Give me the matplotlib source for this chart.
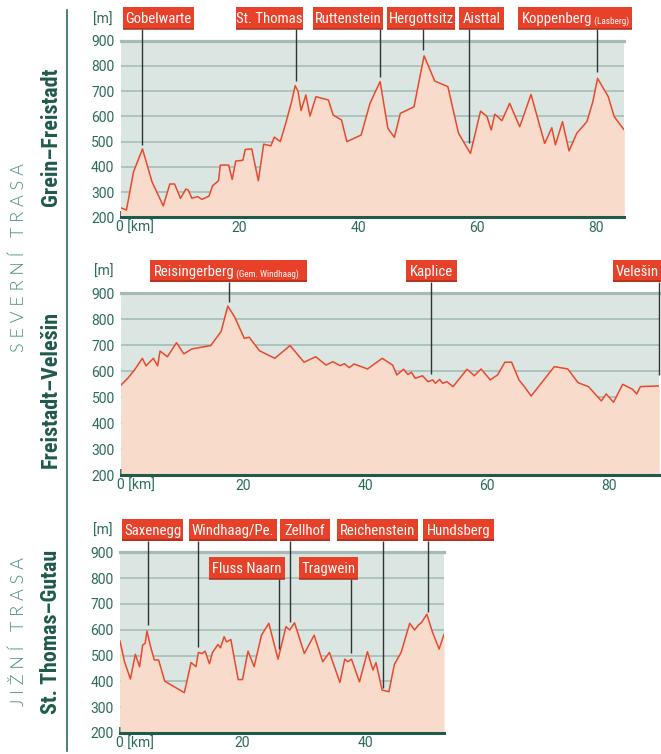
import os
import matplotlib
matplotlib.use("Agg")
import matplotlib.pyplot as plt
from matplotlib import font_manager as fm
from matplotlib.patches import FancyBboxPatch
from matplotlib.lines import Line2D
from matplotlib.transforms import ScaledTranslation

# ---------------- data ----------------
# Panel 1: Grein - Freistadt
km1 = [0, 1.0, 2.2, 3.7, 5.3, 7.2, 8.3, 9.1, 10.1, 11.0, 11.4, 12.0, 13.0, 13.7, 14.9,
       15.5, 16.5, 16.8, 18.2, 18.8, 19.4, 20.6, 21.0, 22.1, 23.2, 24.1, 25.3, 25.9, 26.9,
       27.8, 28.8, 29.4, 29.9, 30.4, 31.2, 31.9, 32.9, 35.0, 35.8, 37.2, 38.1, 40.5, 42.0,
       42.9, 43.7, 45.0, 46.1, 47.1, 49.4, 51.1, 52.9, 55.1, 56.9, 58.9, 60.6, 61.7, 62.4,
       63.0, 64.2, 65.5, 67.2, 69.1, 71.4, 72.6, 73.2, 74.4, 75.5, 76.8, 78.5, 79.5, 80.3,
       82.1, 83.1, 84.8]
elev1 = [238, 229, 381, 471, 341, 245, 332, 332, 275, 312, 308, 276, 282, 271, 284,
         325, 345, 407, 407, 350, 423, 426, 469, 471, 345, 490, 483, 518, 500,
         572, 658, 722, 698, 623, 685, 601, 678, 665, 605, 586, 500, 526, 652,
         698, 738, 553, 517, 612, 638, 840, 740, 718, 533, 453, 621, 599, 546,
         609, 583, 652, 559, 687, 493, 555, 487, 579, 463, 533, 579, 658, 751,
         678, 599, 546]
names1 = ["Gobelwarte", "St. Thomas", "Ruttenstein", "Hergottsitz", "Aisttal", "Koppenberg"]
subs1 = ["", "", "", "", "", "(Lasberg)"]
mark_km1 = [3.6, 29.5, 43.7, 51.0, 58.7, 80.2]
mark_elev1 = [487, 741, 757, 863, 493, 777]

# Panel 2: Freistadt - Velesin
km2 = [0, 1.1, 2.2, 3.5, 4.1, 5.3, 6.0, 6.4, 7.6, 9.1, 10.3, 11.6, 14.7, 16.4, 17.5,
       18.6, 20.2, 21.0, 22.7, 25.2, 27.7, 30.0, 31.9, 33.6, 34.7, 35.9, 36.6, 37.4, 38.2,
       40.4, 42.8, 44.5, 45.2, 46.3, 47.0, 47.6, 48.2, 49.4, 50.3, 51.1, 51.5, 52.2, 52.7,
       53.4, 54.4, 56.7, 57.9, 59.0, 60.5, 61.7, 62.9, 64.0, 65.2, 66.1, 67.2, 71.0, 73.2,
       74.9, 76.6, 78.7, 79.5, 80.7, 82.2, 83.8, 84.5, 85.1, 88.2]
elev2 = [547, 573, 605, 650, 621, 650, 621, 678, 656, 710, 667, 686, 699, 753, 851,
         810, 727, 731, 679, 650, 699, 635, 656, 624, 637, 622, 629, 614, 628,
         609, 650, 624, 586, 608, 588, 596, 573, 583, 560, 567, 554, 569, 554,
         560, 541, 608, 583, 609, 567, 586, 635, 635, 567, 541, 505, 618, 609,
         556, 541, 486, 513, 481, 550, 531, 513, 541, 544]
names2 = ["Reisingerberg", "Kaplice", "Velešin"]
subs2 = ["(Gem. Windhaag)", "", ""]
mark_km2 = [17.7, 50.8, 88.2]
mark_elev2 = [865, 588, 586]

# Panel 3: St. Thomas - Gutau
km3 = [0, 0.74, 1.7, 2.5, 3.2, 3.7, 4.1, 4.4, 5.0, 5.6, 6.3, 7.3, 10.5, 11.6, 12.4,
       12.8, 13.4, 13.9, 14.6, 15.1, 16.0, 16.4, 17.0, 17.4, 18.1, 19.3, 20.0, 20.9, 21.9,
       23.1, 24.3, 25.8, 27.1, 27.7, 28.5, 30.1, 31.7, 33.1, 34.2, 35.9, 36.7, 37.2, 37.8,
       39.1, 40.4, 41.3, 41.8, 42.8, 43.9, 44.8, 45.9, 47.3, 48.1, 48.7, 49.2, 50.1, 51.0,
       52.1, 52.9]
elev3 = [556, 476, 409, 505, 457, 541, 547, 595, 534, 483, 483, 401, 356, 473, 457,
         512, 508, 517, 468, 512, 543, 530, 573, 553, 562, 407, 407, 517, 457,
         579, 625, 486, 612, 599, 627, 508, 579, 476, 512, 396, 486, 476, 486,
         398, 515, 444, 473, 366, 360, 466, 512, 625, 599, 618, 627, 660, 592,
         525, 582]
names3 = ["Saxenegg", "Windhaag/Pe.", "Zellhof", "Reichenstein", "Hundsberg",
          "Fluss Naarn", "Tragwein"]
subs3 = ["", "", "", "", "", "", ""]
mark_km3 = [4.5, 12.8, 27.7, 43.0, 50.3, 25.9, 37.7]
mark_elev3 = [618, 534, 631, 373, 670, 524, 509]

yticks = [200, 300, 400, 500, 600, 700, 800, 900]
xticks1 = [0, 20, 40, 60, 80]
xticks3 = [0, 20, 40]
xlabels1 = ["0 [km]", "20", "40", "60", "80"]
xlabels3 = ["0 [km]", "20", "40"]

# ---------------- layout / style ----------------
W, H, DPI = 661, 754, 100
BG = "#dbe6e2"
GRID = "#a5bcb4"
FILL = "#f9dbcb"
LINE = "#e8492d"
BOX = "#e8412a"
BOXEDGE = "#a9301d"
TEAL = "#2b6a5a"
TEAL_LIGHT = "#4d8d7c"
DARK = "#1f5a4b"


def find_font(cands):
    files = {}
    for f in fm.fontManager.ttflist:
        b = os.path.splitext(os.path.basename(f.fname))[0].lower()
        files.setdefault(b, f.fname)
    for name, size in cands:
        if name.lower() in files:
            return files[name.lower()], size
    return None, None


def make_fp(cands, fb_family, fb_weight, fb_size):
    path, size = find_font(cands)
    if path:
        return fm.FontProperties(fname=path, size=size)
    return fm.FontProperties(family=fb_family, weight=fb_weight, size=fb_size)


fp_title = make_fp([("NotoSans-ExtraCondensedBold", 17.5), ("NotoSans-CondensedBold", 15.5),
                    ("RobotoCondensed-Bold", 15.8), ("DejaVuSansCondensed-Bold", 14)],
                   "Roboto", "bold", 14)
fp_label = make_fp([("NotoSans-CondensedMedium", 10.6), ("NotoSans-Condensed", 10.6),
                    ("RobotoCondensed-Regular", 10.6), ("DejaVuSansCondensed", 9.5)],
                   "Roboto", "normal", 9.5)
fp_small = fp_label.copy()
fp_small.set_size(fp_label.get_size() * 0.62)
fp_tick = make_fp([("NotoSans-SemiCondensed", 10.2), ("NotoSans-Regular", 10),
                   ("Roboto-Regular", 10)], "Noto Sans", "normal", 10)
fp_light = make_fp([("Lato-Light", 13), ("OpenSans-Light", 12.5), ("NotoSans-Light", 12.5),
                    ("Roboto-Light", 12.5)], "DejaVu Sans", "light", 12)

fig = plt.figure(figsize=(W / DPI, H / DPI), dpi=DPI)
fig.patch.set_facecolor("white")


def pxrect(l, t, r, b):
    return [l / W, 1 - b / H, (r - l) / W, (b - t) / H]


def panel(rect_px, xlim, km, elev, xticks, xlabels, names, subs, mkm, melev,
          boxes, rows):
    l, t, r, b = rect_px
    ax = fig.add_axes(pxrect(l, t, r, b))
    ax.set_facecolor(BG)
    ax.set_xlim(*xlim)
    ax.set_ylim(200, 900)
    ppe = (b - t) / 700.0  # pixels per metre
    ppk = (r - l) / (xlim[1] - xlim[0])  # pixels per km
    for yv in yticks[1:-1]:
        ax.axhline(yv, color=GRID, lw=1.2, zorder=1)
    ax.fill_between(km, elev, 200, color=FILL, lw=0, zorder=2)
    ax.plot(km, elev, color=LINE, lw=1.1, zorder=3, solid_joinstyle="round")
    for s in ["left", "right"]:
        ax.spines[s].set_visible(False)
    ax.spines["top"].set_color(GRID)
    ax.spines["top"].set_linewidth(2.3)
    ax.spines["bottom"].set_color(DARK)
    ax.spines["bottom"].set_linewidth(2.2)
    ax.set_yticks(yticks)
    ax.set_yticklabels([str(v) for v in yticks])
    ax.tick_params(axis="y", length=0, pad=4.5, colors=TEAL)
    ax.set_xticks(xticks)
    ax.set_xticklabels(xlabels)
    ax.tick_params(axis="x", direction="in", length=4, width=1.2, color=DARK,
                   pad=2.5, colors=TEAL)
    for lab in ax.get_xticklabels() + ax.get_yticklabels():
        lab.set_fontproperties(fp_tick)
        lab.set_color(TEAL)
    first = ax.get_xticklabels()[0]
    first.set_horizontalalignment("left")
    first.set_transform(first.get_transform() + ScaledTranslation(-4 / DPI, 0, fig.dpi_scale_trans))
    ax.annotate("[m]", xy=(0, 1), xycoords="axes fraction", xytext=(-8, 21),
                textcoords="offset pixels", ha="right", va="center",
                fontproperties=fp_tick, color=TEAL)

    # label boxes
    for name, sub, mk, me, (bl, br), row in zip(names, subs, mkm, melev, boxes, rows):
        if row == 0:
            yb_px = 11.5
        else:
            yb_px = -27.0
        yb = 900 + yb_px / ppe
        yt = yb + 22 / ppe
        ax.plot([mk, mk], [me, yb], color="#333333", lw=1.0, zorder=4,
                clip_on=False, solid_capstyle="butt")
        patch = FancyBboxPatch((bl, yb), br - bl, yt - yb,
                               boxstyle="square,pad=0", fc=BOX, ec="none",
                               zorder=5, clip_on=False)
        ax.add_patch(patch)
        ax.plot([bl, br], [yb + 0.6 / ppe, yb + 0.6 / ppe], color=BOXEDGE, lw=1.1,
                zorder=6, clip_on=False, solid_capstyle="butt")
        ybase = yb + 6.0 / ppe
        if sub:
            tx = ax.text(bl + 3.5 / ppk, ybase, name, ha="left", va="baseline",
                         color="white", fontproperties=fp_label, zorder=7, clip_on=False)
            ax.annotate(" " + sub, xy=(1, 0), xycoords=tx, xytext=(0, 0),
                        textcoords="offset pixels", ha="left", va="bottom",
                        color="white", fontproperties=fp_small, zorder=7,
                        annotation_clip=False)
        else:
            ax.text((bl + br) / 2, ybase, name, ha="center", va="baseline",
                    color="white", fontproperties=fp_label, zorder=7, clip_on=False)
    return ax


panel((120.5, 40.7, 624.3, 217.3), (0, 84.8), km1, elev1, xticks1, xlabels1,
      names1, subs1, mark_km1, mark_elev1,
      [(0.42, 12.37), (19.44, 30.72), (32.41, 44.19), (44.87, 56.31), (56.99, 64.56),
       (66.92, 86.11)], [0] * 6)

panel((121.0, 293.3, 659.3, 475.3), (0, 88.2), km2, elev2, xticks1, xlabels1,
      names2, subs2, mark_km2, mark_elev2,
      [(4.75, 30.54), (46.72, 55.03), (80.61, 88.55)], [0] * 3)

panel((120.0, 552.3, 444.0, 733.0), (0, 52.9), km3, elev3, xticks3, xlabels3,
      names3, subs3, mark_km3, mark_elev3,
      [(0.4, 10.3), (11.3, 25.6), (26.1, 34.3), (35.4, 48.7), (49.5, 61.0),
       (14.5, 27.0), (29.2, 38.9)], [0, 0, 0, 0, 0, 1, 1])

# left side texts
fig.add_artist(Line2D([67 / W, 67 / W], [1 - 10 / H, 1 - 751 / H], color=TEAL, lw=1.2))


def ftext(x, y, s, fp, color):
    fig.text(x / W, 1 - y / H, s, rotation=90, ha="center", va="center",
             fontproperties=fp, color=color, rotation_mode="anchor")


ftext(19, 258, "S E V E R N Í   T R A S A", fp_light, TEAL_LIGHT)
ftext(19, 632, "J I Ž N Í   T R A S A", fp_light, TEAL_LIGHT)
ftext(51, 137, "Grein–Freistadt", fp_title, DARK)
ftext(51, 389, "Freistadt–Velešin", fp_title, DARK)
ftext(51, 632, "St. Thomas–Gutau", fp_title, DARK)

fig.savefig("out.png", dpi=DPI, facecolor="white")
